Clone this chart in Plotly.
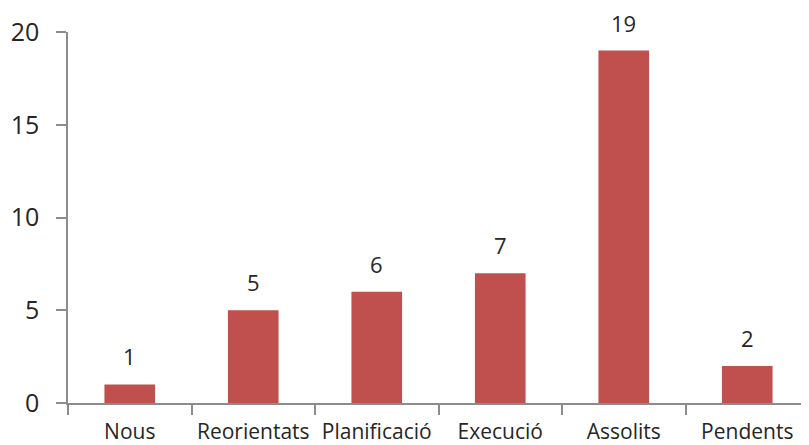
import plotly.graph_objects as go

categories = ["Nous", "Reorientats", "Planificació", "Execució", "Assolits", "Pendents"]
values = [1, 5, 6, 7, 19, 2]
y_ticks = [0, 5, 10, 15, 20]

bar_color = "#C0504D"
axis_color = "#8C8C8C"
text_color = "#262626"
font_family = "Open Sans, Noto Sans, DejaVu Sans, sans-serif"

fig = go.Figure()
fig.add_trace(go.Bar(x=categories, y=values, marker=dict(color=bar_color, line=dict(width=0)),
                     hoverinfo="skip"))

for c, v in zip(categories, values):
    fig.add_annotation(x=c, y=v, text=str(v), showarrow=False, yanchor="bottom",
                       yshift=11, font=dict(size=22, color=text_color, family=font_family))

# page body has an 8px margin, so the figure is offset by 8px on screen
fig.update_layout(
    width=809, height=445,
    margin=dict(l=60, r=8, t=24, b=50),
    paper_bgcolor="white", plot_bgcolor="white",
    bargap=0.59,
    showlegend=False,
    font=dict(family=font_family, color=text_color),
)
fig.update_xaxes(
    type="category", range=[-0.5, 5.5], automargin=False,
    showline=True, linecolor=axis_color, linewidth=1.5,
    ticks="outside", tickson="boundaries", ticklen=10, tickcolor=axis_color, tickwidth=1.5,
    tickfont=dict(size=21, color=text_color, family=font_family),
    ticklabelstandoff=9,
    showgrid=False, zeroline=False,
)
fig.update_yaxes(
    range=[0, 20], tickvals=y_ticks, automargin=False,
    showline=True, linecolor=axis_color, linewidth=1.5,
    ticks="outside", ticklen=10, tickcolor=axis_color, tickwidth=1.5,
    tickfont=dict(size=25, color=text_color, family=font_family),
    ticklabelstandoff=12,
    showgrid=False, zeroline=False,
)

fig.write_html("out.html")
